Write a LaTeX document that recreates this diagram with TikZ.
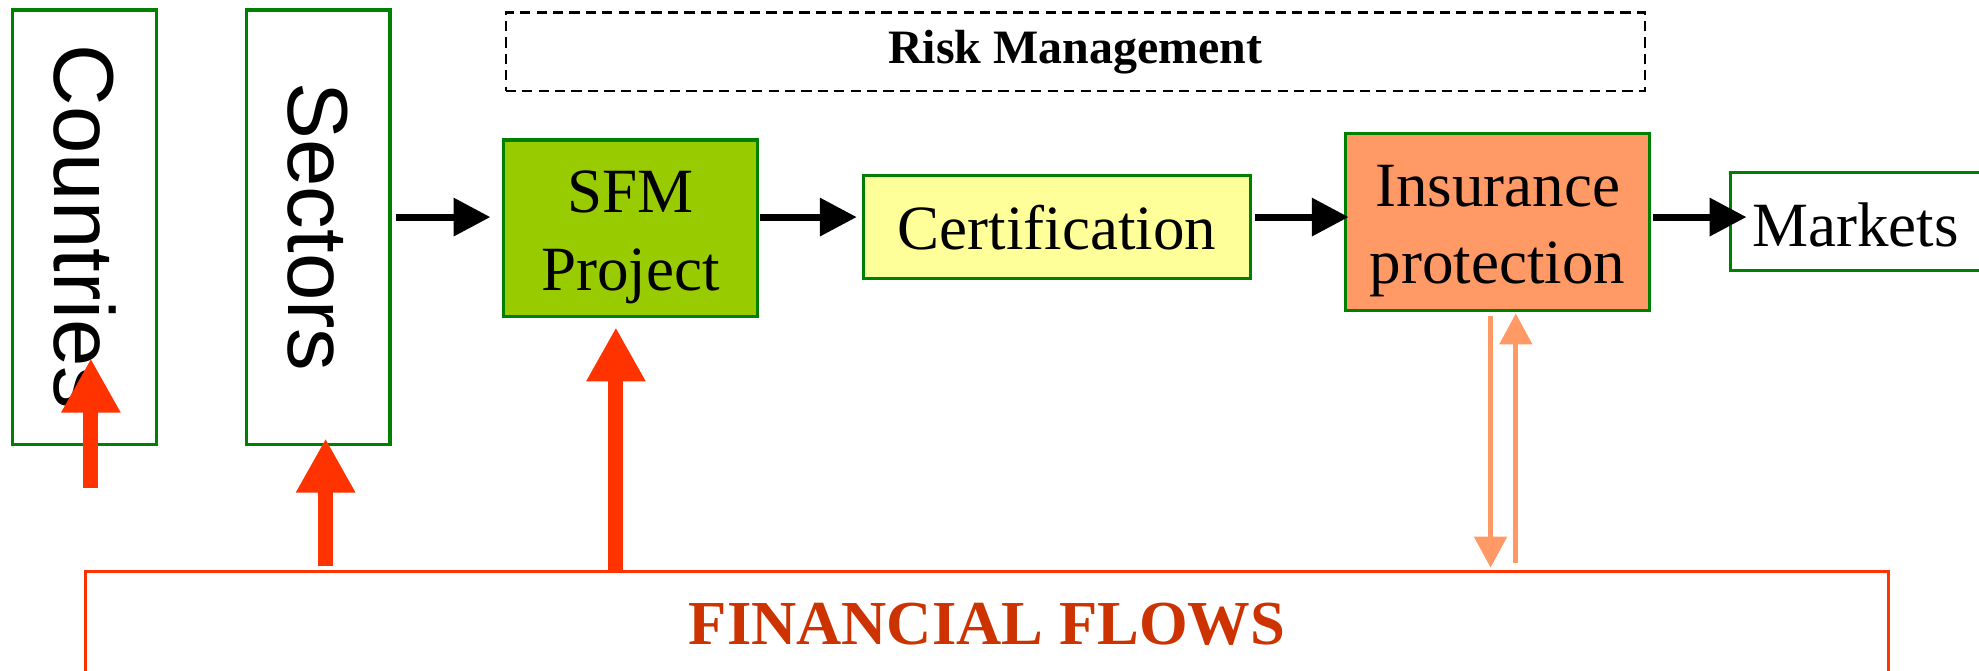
\documentclass[tikz,border=0pt]{standalone}
\usepackage{fontspec}
\setmainfont{Liberation Serif}
\setsansfont{Liberation Sans}
\usetikzlibrary{arrows.meta}
\definecolor{bgreen}{HTML}{008000}
\definecolor{sfmfill}{HTML}{99CC00}
\definecolor{certfill}{HTML}{FFFF99}
\definecolor{insfill}{HTML}{FF9966}
\definecolor{flowred}{HTML}{FF3300}
\definecolor{flowtext}{HTML}{CC3300}
\definecolor{salmon}{HTML}{FF9966}
\begin{document}
\begin{tikzpicture}[x=0.01cm,y=-0.01cm,
  gbox/.style={draw=bgreen, line width=0.7pt, inner sep=0pt},
  serif/.style={font=\fontsize{14.2pt}{17.4pt}\selectfont, align=center, inner sep=0pt},
  sans/.style={font=\sffamily\fontsize{19.2pt}{22pt}\selectfont},
  blk/.style={line width=1.6pt, -{Triangle[length=8.3pt,width=8.3pt]}},
  redarr/.style={draw=flowred, line width=3.4pt, -{Triangle[length=12.2pt,width=12.5pt]}},
  salarr/.style={draw=salmon, line width=1.2pt, -{Triangle[length=7pt,width=7.2pt]}}
]
\path[use as bounding box, clip] (0,0) rectangle (1568,531);

% boxes
\node[gbox, sans, minimum width=1.14cm, minimum height=3.44cm] (countries) at (67,180) {\rotatebox{-90}{Countries}};
\node[gbox, sans, minimum width=1.14cm, minimum height=3.44cm] (sectors) at (252,180) {\rotatebox{-90}{Sectors}};
\node[draw=black, line width=0.5pt, dash pattern=on 2.3pt off 1.4pt, minimum width=9.02cm, minimum height=0.62cm, inner sep=0pt,
      font=\bfseries\fontsize{10.8pt}{13pt}\selectfont] (risk) at (852,41) {Risk Management};
\node[gbox, fill=sfmfill, minimum width=2.01cm, minimum height=1.40cm] (sfm) at (499.5,181) {};
\node[serif] (sfmtext) at (499.5,188) {SFM\\Project};
\node[gbox, fill=certfill, minimum width=3.07cm, minimum height=0.82cm, serif] (cert) at (837.5,180) {Certification};
\node[gbox, fill=insfill, minimum width=2.41cm, minimum height=1.40cm] (ins) at (1186.5,176) {};
\node[serif] (instext) at (1186.5,183) {Insurance\\protection};
\node[gbox, minimum width=2.40cm, minimum height=0.77cm] (markets) at (1491,175.5) {};
\node[serif] (marketstext) at (1470,178) {Markets};
\node[draw=flowred, line width=0.6pt, minimum width=14.28cm, minimum height=1.10cm, inner sep=0pt] (fin) at (782,508) {};
\node[text=flowtext, font=\bfseries\fontsize{14.1pt}{17pt}\selectfont, inner sep=0pt] (fintext) at (782,495) {FINANCIAL FLOWS};

% black flow arrows
\coordinate (row) at (0,172);
\draw[blk, shorten <=1.1pt, shorten >=2.6pt] (sectors.east |- row) -- (sfm.west |- row);
\draw[blk, shorten <=0.3pt, shorten >=1.1pt] (sfm.east |- row) -- (cert.west |- row);
\draw[blk, shorten <=0.6pt, shorten >=-1.1pt] (cert.east |- row) -- (ins.west |- row);
\draw[blk, shorten <=0.3pt, shorten >=-4pt] (ins.east |- row) -- (markets.west |- row);

% red financial arrows
\coordinate (cstart) at (72,387);
\coordinate (ctip) at (72,284);
\draw[redarr] (cstart) -- (ctip);
\draw[redarr, shorten <=0.9pt, shorten >=-1.7pt] (fin.north -| 258,0) -- (sectors.south -| 258,0);
\draw[redarr, shorten >=2pt] (fin.north -| 488,0) -- (sfm.south -| 488,0);

% insurance two-way arrows
\draw[salarr, shorten <=0.9pt, shorten >=0.6pt] (ins.south -| 1181,0) -- (fin.north -| 1181,0);
\draw[salarr, shorten <=1.6pt, shorten >=0.3pt] (fin.north -| 1201,0) -- (ins.south -| 1201,0);
\end{tikzpicture}
\end{document}
